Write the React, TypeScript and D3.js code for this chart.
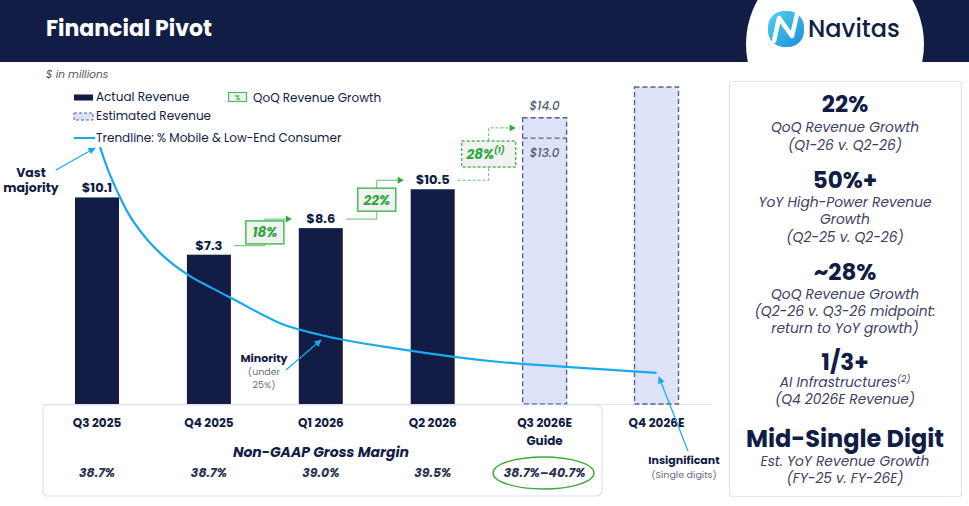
import React from "react";
import * as d3 from "d3";

const categories = ["Q3 2025", "Q4 2025", "Q1 2026", "Q2 2026", "Q3 2026E", "Q4 2026E"];
const categorySub = ["", "", "", "", "Guide", ""];
const actualRevenue: (number | null)[] = [10.1, 7.3, 8.6, 10.5, null, null];
const estimatedLow: (number | null)[] = [null, null, null, null, 13.0, null];
const estimatedHigh: (number | null)[] = [null, null, null, null, 14.0, 15.5];
const grossMargin = ["38.7%", "38.7%", "39.0%", "39.5%", "38.7%\u201340.7%"];
const qoqGrowth = [
  { from: 1, to: 2, label: "18%", sup: "", dashed: false },
  { from: 2, to: 3, label: "22%", sup: "", dashed: false },
  { from: 3, to: 4, label: "28%", sup: "(1)", dashed: true },
];
// trendline: % Mobile & Low-End Consumer, position in quarter index units
const trendIndex = [0.027, 0.098, 0.188, 0.277, 0.429, 0.581, 0.813, 1.028, 1.233, 1.635, 2.0, 2.708, 3.601, 4.19, 5.0];
const trendPct = [73.4, 66.9, 60.3, 54.6, 47.7, 42.6, 36.9, 33.1, 29.7, 23.1, 19.7, 15.7, 12.0, 10.6, 8.9];

const W = 969;
const H = 506;
const NAVY = "#111d45";
const GREEN = "#2ea83c";
const BLUE = "#1aa9ec";
const FONT = "Poppins, 'Open Sans', sans-serif";

const x = d3.scalePoint<string>().domain(categories).range([97, 656.5]);
const xi = d3.scaleLinear().domain([0, 5]).range([97, 656.5]);
const y = d3.scaleLinear().domain([0, 15.5]).range([404, 87]);
const yPct = d3.scaleLinear().domain([0, 100]).range([404, 54]);
const BW = 44;

export default function App() {
  const trendLine = d3
    .line<number>()
    .x((_, i) => xi(trendIndex[i]))
    .y((d) => yPct(d))
    .curve(d3.curveMonotoneX)(trendPct) as string;

  const rightPanel: { t: string; kind: "big" | "sub"; y: number; sup?: string; size?: number }[] = [
    { t: "22%", kind: "big", y: 112 },
    { t: "QoQ Revenue Growth", kind: "sub", y: 132 },
    { t: "(Q1-26 v. Q2-26)", kind: "sub", y: 150 },
    { t: "50%+", kind: "big", y: 188 },
    { t: "YoY High-Power Revenue", kind: "sub", y: 207 },
    { t: "Growth", kind: "sub", y: 224 },
    { t: "(Q2-25 v. Q2-26)", kind: "sub", y: 242 },
    { t: "~28%", kind: "big", y: 280 },
    { t: "QoQ Revenue Growth", kind: "sub", y: 299 },
    { t: "(Q2-26 v. Q3-26 midpoint:", kind: "sub", y: 316 },
    { t: "return to YoY growth)", kind: "sub", y: 333 },
    { t: "1/3+", kind: "big", y: 370 },
    { t: "AI Infrastructures", kind: "sub", y: 387, sup: "(2)" },
    { t: "(Q4 2026E Revenue)", kind: "sub", y: 404 },
    { t: "Mid-Single Digit", kind: "big", y: 447, size: 24 },
    { t: "Est. YoY Revenue Growth", kind: "sub", y: 466 },
    { t: "(FY-25 v. FY-26E)", kind: "sub", y: 483 },
  ];

  return (
    <div style={{ position: "absolute", left: 0, top: 0 }}>
      <svg width={W} height={H} style={{ display: "block", background: "#fff" }} fontFamily={FONT}>
        <defs>
          <marker id="blueArrow" viewBox="0 0 10 10" refX="9" refY="5" markerWidth="6" markerHeight="6" orient="auto">
            <path d="M0,0 L10,5 L0,10 z" fill={BLUE} />
          </marker>
          <linearGradient id="logoGrad" x1="0" y1="0" x2="1" y2="1">
            <stop offset="0" stopColor="#56d0f2" />
            <stop offset="1" stopColor="#1a8fd8" />
          </linearGradient>
        </defs>

        {/* header */}
        <rect x={0} y={0} width={W} height={62} fill={NAVY} />
        <text x={46} y={36} fill="#fff" fontSize={22} fontWeight={700}>
          Financial Pivot
        </text>
        <circle cx={835} cy={44} r={89} fill="#fff" />
        <rect x={740} y={62} width={200} height={18} fill="#fff" />
        <g>
          <rect x={768} y={11} width={36} height={36} rx={16} fill="url(#logoGrad)" />
          <path d="M774,41 L779,18 L792,36 L797,14" fill="none" stroke="#fff" strokeWidth={4.5} strokeLinejoin="round" strokeLinecap="round" />
        </g>
        <text x={808} y={37} fill={NAVY} fontSize={24} fontWeight={500}>
          Navitas
        </text>

        {/* units + legend */}
        <text x={46} y={78} fill="#555" fontSize={10.5} fontStyle="italic">
          $ in millions
        </text>
        <rect x={74} y={94.5} width={19} height={6} fill={NAVY} />
        <text x={96} y={101} fill={NAVY} fontSize={12}>Actual Revenue</text>
        <rect x={74} y={113} width={19} height={7} fill="#dce3f8" stroke="#5b6280" strokeWidth={1} strokeDasharray="3,2" />
        <text x={96} y={120} fill={NAVY} fontSize={12}>Estimated Revenue</text>
        <line x1={74} x2={95} y1={138} y2={138} stroke={BLUE} strokeWidth={2} />
        <text x={96} y={142} fill={NAVY} fontSize={12}>Trendline: % Mobile &amp; Low-End Consumer</text>
        <rect x={228.5} y={92.5} width={18} height={9} fill="#f2f4f2" stroke="#4cbb5a" strokeWidth={1.2} />
        <text x={237.5} y={100} fill={GREEN} fontSize={6} fontWeight={700} textAnchor="middle">%</text>
        <text x={253} y={102} fill={NAVY} fontSize={12}>QoQ Revenue Growth</text>

        {/* baseline */}
        <line x1={43} x2={712} y1={404.5} y2={404.5} stroke="#dfe3f0" strokeWidth={1} />

        {/* estimated bars */}
        {categories.map((c, i) =>
          estimatedHigh[i] != null ? (
            <g key={"e" + c}>
              <rect
                x={(x(c) as number) - BW / 2}
                y={y(estimatedHigh[i] as number)}
                width={BW}
                height={y(0) - y(estimatedHigh[i] as number)}
                fill="#dce3f8"
                stroke="#5b6280"
                strokeWidth={1.4}
                strokeDasharray="5,3"
              />
              {estimatedLow[i] != null && (
                <>
                  <line
                    x1={(x(c) as number) - BW / 2}
                    x2={(x(c) as number) + BW / 2}
                    y1={y(estimatedLow[i] as number)}
                    y2={y(estimatedLow[i] as number)}
                    stroke="#5b6280"
                    strokeWidth={1.4}
                    strokeDasharray="5,3"
                  />
                  <text x={x(c)} y={y(estimatedHigh[i] as number) - 8} fill="#555d78" fontSize={12} fontStyle="italic" fontWeight={500} textAnchor="middle">
                    ${(estimatedHigh[i] as number).toFixed(1)}
                  </text>
                  <text x={x(c)} y={y(estimatedLow[i] as number) + 19} fill="#555d78" fontSize={12} fontStyle="italic" fontWeight={500} textAnchor="middle">
                    ${(estimatedLow[i] as number).toFixed(1)}
                  </text>
                </>
              )}
            </g>
          ) : null
        )}

        {/* actual bars */}
        {categories.map((c, i) =>
          actualRevenue[i] != null ? (
            <g key={"a" + c}>
              <rect
                x={(x(c) as number) - BW / 2}
                y={y(actualRevenue[i] as number)}
                width={BW}
                height={y(0) - y(actualRevenue[i] as number)}
                fill={NAVY}
              />
              <text x={x(c)} y={y(actualRevenue[i] as number) - 5} fill={NAVY} fontSize={13} fontWeight={700} textAnchor="middle">
                ${(actualRevenue[i] as number).toFixed(1)}
              </text>
            </g>
          ) : null
        )}

        {/* QoQ growth connectors */}
        {qoqGrowth.map((g) => {
          const cFrom = x(categories[g.from]) as number;
          const cTo = x(categories[g.to]) as number;
          const mid = (cFrom + cTo) / 2;
          const lowY = y(actualRevenue[g.from] as number) - 9;
          const toVal = actualRevenue[g.to];
          const upY =
            toVal != null
              ? y(toVal) - 9
              : (y(estimatedHigh[g.to] as number) + y(estimatedLow[g.to] as number)) / 2;
          const startX = cFrom + BW / 2 + 3;
          const endX = cTo - BW / 2 - 7;
          const boxW = g.sup ? 54 : 38;
          const boxH = g.sup ? 26 : 23;
          const boxY = (lowY + upY) / 2;
          const dash = g.dashed ? "3,2" : undefined;
          return (
            <g key={g.label}>
              <path
                d={`M${startX},${lowY} H${mid} V${upY} H${endX - 5}`}
                fill="none"
                stroke="#5cc36a"
                strokeWidth={1}
                strokeDasharray={dash}
              />
              <path d={`M${endX - 6},${upY - 3.5} L${endX},${upY} L${endX - 6},${upY + 3.5} z`} fill={GREEN} />
              <rect
                x={mid - boxW / 2}
                y={boxY - boxH / 2}
                width={boxW}
                height={boxH}
                fill="#f1f2f1"
                stroke="#4cbb5a"
                strokeWidth={1.5}
                strokeDasharray={dash}
              />
              <text x={mid + (g.sup ? -3 : 0)} y={boxY + 5} fill={GREEN} fontSize={13.5} fontWeight={700} fontStyle="italic" textAnchor="middle">
                {g.label}
                {g.sup && (
                  <tspan fontSize={8} dy={-6}>
                    {g.sup}
                  </tspan>
                )}
              </text>
            </g>
          );
        })}

        {/* trendline */}
        <path d={trendLine} fill="none" stroke={BLUE} strokeWidth={2.2} />

        {/* annotations */}
        <text x={31} y={177} fill={NAVY} fontSize={12.5} fontWeight={700} textAnchor="middle">Vast</text>
        <text x={31} y={192} fill={NAVY} fontSize={12.5} fontWeight={700} textAnchor="middle">majority</text>
        <line x1={56} y1={170} x2={95} y2={148} stroke={BLUE} strokeWidth={1.2} markerEnd="url(#blueArrow)" />

        <text x={264} y={362} fill={NAVY} fontSize={11} fontWeight={700} textAnchor="middle">Minority</text>
        <text x={264} y={375} fill="#666b7d" fontSize={9.5} textAnchor="middle">(under</text>
        <text x={264} y={387.5} fill="#666b7d" fontSize={9.5} textAnchor="middle">25%)</text>
        <line x1={286} y1={370} x2={321} y2={340} stroke={BLUE} strokeWidth={1.2} markerEnd="url(#blueArrow)" />

        {/* bottom panel */}
        <rect x={43} y={405} width={559} height={91} rx={5} fill="#fff" stroke="#dde2f2" strokeWidth={1.2} />
        {categories.map((c, i) => (
          <g key={"lbl" + c}>
            <text x={x(c)} y={427} fill={NAVY} fontSize={12} fontWeight={700} textAnchor="middle">{c}</text>
            {categorySub[i] && (
              <text x={x(c)} y={445} fill={NAVY} fontSize={12} fontWeight={700} textAnchor="middle">{categorySub[i]}</text>
            )}
          </g>
        ))}
        <text x={321} y={457} fill={NAVY} fontSize={14} fontWeight={700} fontStyle="italic" textAnchor="middle">
          Non-GAAP Gross Margin
        </text>
        {grossMargin.map((m, i) => (
          <text key={"m" + i} x={x(categories[i])} y={477} fill="#2b3252" fontSize={12.5} fontWeight={700} fontStyle="italic" textAnchor="middle">
            {m}
          </text>
        ))}
        <ellipse cx={543.5} cy={473} rx={50.5} ry={16} fill="none" stroke="#3aaa35" strokeWidth={1.4} />

        <text x={684} y={464} fill={NAVY} fontSize={11} fontWeight={700} textAnchor="middle">Insignificant</text>
        <text x={684} y={477.5} fill="#666b7d" fontSize={9.5} textAnchor="middle">(Single digits)</text>
        <line x1={688} y1={451} x2={659} y2={377} stroke={BLUE} strokeWidth={1.2} markerEnd="url(#blueArrow)" />

        {/* right panel */}
        <rect x={729.5} y={81.5} width={232} height={415} rx={3} fill="#fff" stroke="#dfe4f3" strokeWidth={1.2} />
        {rightPanel.map((r, i) =>
          r.kind === "big" ? (
            <text key={"r" + i} x={845} y={r.y} fill={NAVY} fontSize={r.size ?? 23} fontWeight={700} textAnchor="middle">
              {r.t}
            </text>
          ) : (
            <text key={"r" + i} x={845} y={r.y} fill="#3b4263" fontSize={13.8} fontStyle="italic" textAnchor="middle">
              {r.t}
              {r.sup && (
                <tspan fontSize={9} dy={-5}>
                  {r.sup}
                </tspan>
              )}
            </text>
          )
        )}
      </svg>
    </div>
  );
}
